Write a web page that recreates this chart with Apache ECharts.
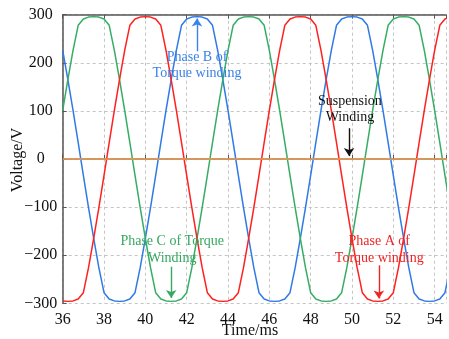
<!doctype html>
<html>
<head>
<meta charset="utf-8">
<title>Voltage waveforms</title>
<script src="https://cdn.jsdelivr.net/npm/echarts/dist/echarts.min.js"></script>
<style>
	html,body{
		margin: 0;
		padding: 0;
		background: #fff;
	}
	#wave_chart{
		width: 449px;
		height: 339px;
	}
</style>
</head>
<body>
	<div id="wave_chart"></div>
</body>
<script>
	// sample times (ms)
	var timeMs = [36,36.25,36.5,36.75,37,37.25,37.5,37.75,38,38.25,38.5,38.75,39,39.25,39.5,39.75,
		40,40.25,40.5,40.75,41,41.25,41.5,41.75,42,42.25,42.5,42.75,43,43.25,43.5,43.75,
		44,44.25,44.5,44.75,45,45.25,45.5,45.75,46,46.25,46.5,46.75,47,47.25,47.5,47.75,
		48,48.25,48.5,48.75,49,49.25,49.5,49.75,50,50.25,50.5,50.75,51,51.25,51.5,51.75,
		52,52.25,52.5,52.75,53,53.25,53.5,53.75,54,54.25,54.5,54.75];

	// phase A of torque winding (red)
	var phaseA = [-295,-296,-295,-291,-278,-226,-165,-101,-34,34,101,165,226,278,291,295,
		296,295,291,278,226,165,101,34,-34,-101,-165,-226,-278,-291,
		-295,-296,-295,-291,-278,-226,-165,-101,-34,34,101,165,226,278,291,295,
		296,295,291,278,226,165,101,34,-34,-101,-165,-226,-278,-291,
		-295,-296,-295,-291,-278,-226,-165,-101,-34,34,101,165,226,278,291,295];

	// phase B of torque winding (blue)
	var phaseB = [226,165,101,34,-34,-101,-165,-226,-278,-291,-295,-296,-295,-291,-278,-226,
		-165,-101,-34,34,101,165,226,278,291,295,296,295,291,278,
		226,165,101,34,-34,-101,-165,-226,-278,-291,-295,-296,-295,-291,-278,-226,
		-165,-101,-34,34,101,165,226,278,291,295,296,295,291,278,
		226,165,101,34,-34,-101,-165,-226,-278,-291,-295,-296,-295,-291,-278,-226];

	// phase C of torque winding (green)
	var phaseC = [101,165,226,278,291,295,296,295,291,278,226,165,101,34,-34,-101,
		-165,-226,-278,-291,-295,-296,-295,-291,-278,-226,-165,-101,-34,34,
		101,165,226,278,291,295,296,295,291,278,226,165,101,34,-34,-101,
		-165,-226,-278,-291,-295,-296,-295,-291,-278,-226,-165,-101,-34,34,
		101,165,226,278,291,295,296,295,291,278,226,165,101,34,-34,-101];

	// suspension winding (orange)
	var suspTime = [36, 56];
	var suspVolt = [0, 0];

	var xTicks = [36,38,40,42,44,46,48,50,52,54];
	var yTicks = [-300,-200,-100,0,100,200,300];

	// annotation text centres and arrows, in data units
	var notes = [
		{text:'Phase B of\nTorque winding', x:42.5, y:195, from:[42.5,224], to:[42.5,292], color:'#3b82e6'},
		{text:'Suspension\nWinding', x:49.9, y:103, from:[49.86,64], to:[49.86,6], color:'#111111'},
		{text:'Phase C of Torque\nWinding', x:41.3, y:-189, from:[41.25,-224], to:[41.25,-289], color:'#36a862'},
		{text:'Phase A of\nTorque winding', x:51.32, y:-189, from:[51.3,-221], to:[51.3,-290], color:'#f02424'}
	];

	var serifFont = 'Liberation Serif';

	function pairs(xs, ys){
		var out = [];
		for(var i=0;i<xs.length;i++){
			out.push([xs[i], ys[i]]);
		}
		return out;
	}

	function noteMarks(n){
		return {
			markPoint:{
				symbol:'rect',
				symbolSize:1,
				silent:true,
				itemStyle:{color:'rgba(0,0,0,0)'},
				label:{
					show:true,
					position:'inside',
					formatter:n.text,
					color:n.color,
					fontFamily:serifFont,
					fontSize:14,
					lineHeight:16.5
				},
				data:[{coord:[n.x, n.y]}]
			},
			markLine:{
				silent:true,
				symbol:['none','arrow'],
				symbolSize:8,
				label:{show:false},
				lineStyle:{color:n.color, width:1.4, type:'solid'},
				data:[[{coord:n.from},{coord:n.to}]]
			}
		};
	}

	function waveSeries(name, ys, color, note){
		var s = {
			name:name,
			type:'line',
			data:pairs(timeMs, ys),
			showSymbol:false,
			symbol:'none',
			lineStyle:{color:color, width:1.5},
			itemStyle:{color:color},
			z:2
		};
		var m = noteMarks(note);
		s.markPoint = m.markPoint;
		s.markLine = m.markLine;
		return s;
	}

	// only the even ms ticks carry a label; the cut-off right edge does not
	function xLabel(v){
		return xTicks.indexOf(v) >= 0 ? String(v) : '';
	}

	var wave_chart = echarts.init(document.getElementById('wave_chart'), null, {renderer:'canvas'});

	var wave_option = {
		animation:false,
		backgroundColor:'#ffffff',
		grid:{
			left:62.7,
			top:14.7,
			right:0,
			bottom:35.7
		},
		xAxis:[{
			type:'value',
			position:'bottom',
			min:xTicks[0],
			max:54.55,
			interval:2,
			axisLine:{show:true, lineStyle:{color:'#555', width:1.5}},
			axisTick:{show:true, inside:true, length:4, lineStyle:{color:'#555'}},
			axisLabel:{
				margin:8,
				color:'#111',
				fontFamily:serifFont,
				fontSize:16,
				showMaxLabel:true,
				formatter:xLabel
			},
			splitLine:{show:true, lineStyle:{color:'#c4c4c4', type:[3,3], width:1}}
		},{
			type:'value',
			position:'top',
			min:xTicks[0],
			max:54.55,
			interval:2,
			axisLine:{show:true, lineStyle:{color:'#555', width:1.5}},
			axisTick:{show:true, inside:true, length:4, lineStyle:{color:'#555'}},
			axisLabel:{show:false},
			splitLine:{show:false}
		}],
		yAxis:[{
			type:'value',
			min:yTicks[0],
			max:yTicks[yTicks.length-1],
			interval:100,
			axisLine:{show:true, lineStyle:{color:'#555', width:1.5}},
			axisTick:{show:true, inside:true, length:4, lineStyle:{color:'#555'}},
			axisLabel:{
				margin:22,
				align:'center',
				color:'#111',
				fontFamily:serifFont,
				fontSize:16,
				formatter:function(v){
					return v < 0 ? '\u2212' + (-v) : String(v);
				}
			},
			splitLine:{show:true, lineStyle:{color:'#c4c4c4', type:[3,3], width:1}}
		}],
		graphic:[{
			type:'text',
			x:17.5,
			y:160,
			rotation:Math.PI/2,
			style:{
				text:'Voltage/V',
				fill:'#111',
				font:'16px "Liberation Serif"',
				textAlign:'center',
				textVerticalAlign:'middle'
			}
		},{
			type:'text',
			x:250,
			y:331,
			style:{
				text:'Time/ms',
				fill:'#111',
				font:'16px "Liberation Serif"',
				textAlign:'center',
				textVerticalAlign:'middle'
			}
		}],
		series:[
			waveSeries('Phase B', phaseB, '#2f7ae6', notes[0]),
			waveSeries('Phase C', phaseC, '#36ad64', notes[2]),
			waveSeries('Phase A', phaseA, '#ff2020', notes[3]),
			(function(){
				var s = {
					name:'Suspension',
					type:'line',
					data:pairs(suspTime, suspVolt),
					showSymbol:false,
					symbol:'none',
					lineStyle:{color:'#f5a055', width:1.5},
					itemStyle:{color:'#f5a055'},
					z:3
				};
				var m = noteMarks(notes[1]);
				s.markPoint = m.markPoint;
				s.markLine = m.markLine;
				return s;
			})()
		]
	};

	wave_chart.setOption(wave_option);
</script>
</html>
